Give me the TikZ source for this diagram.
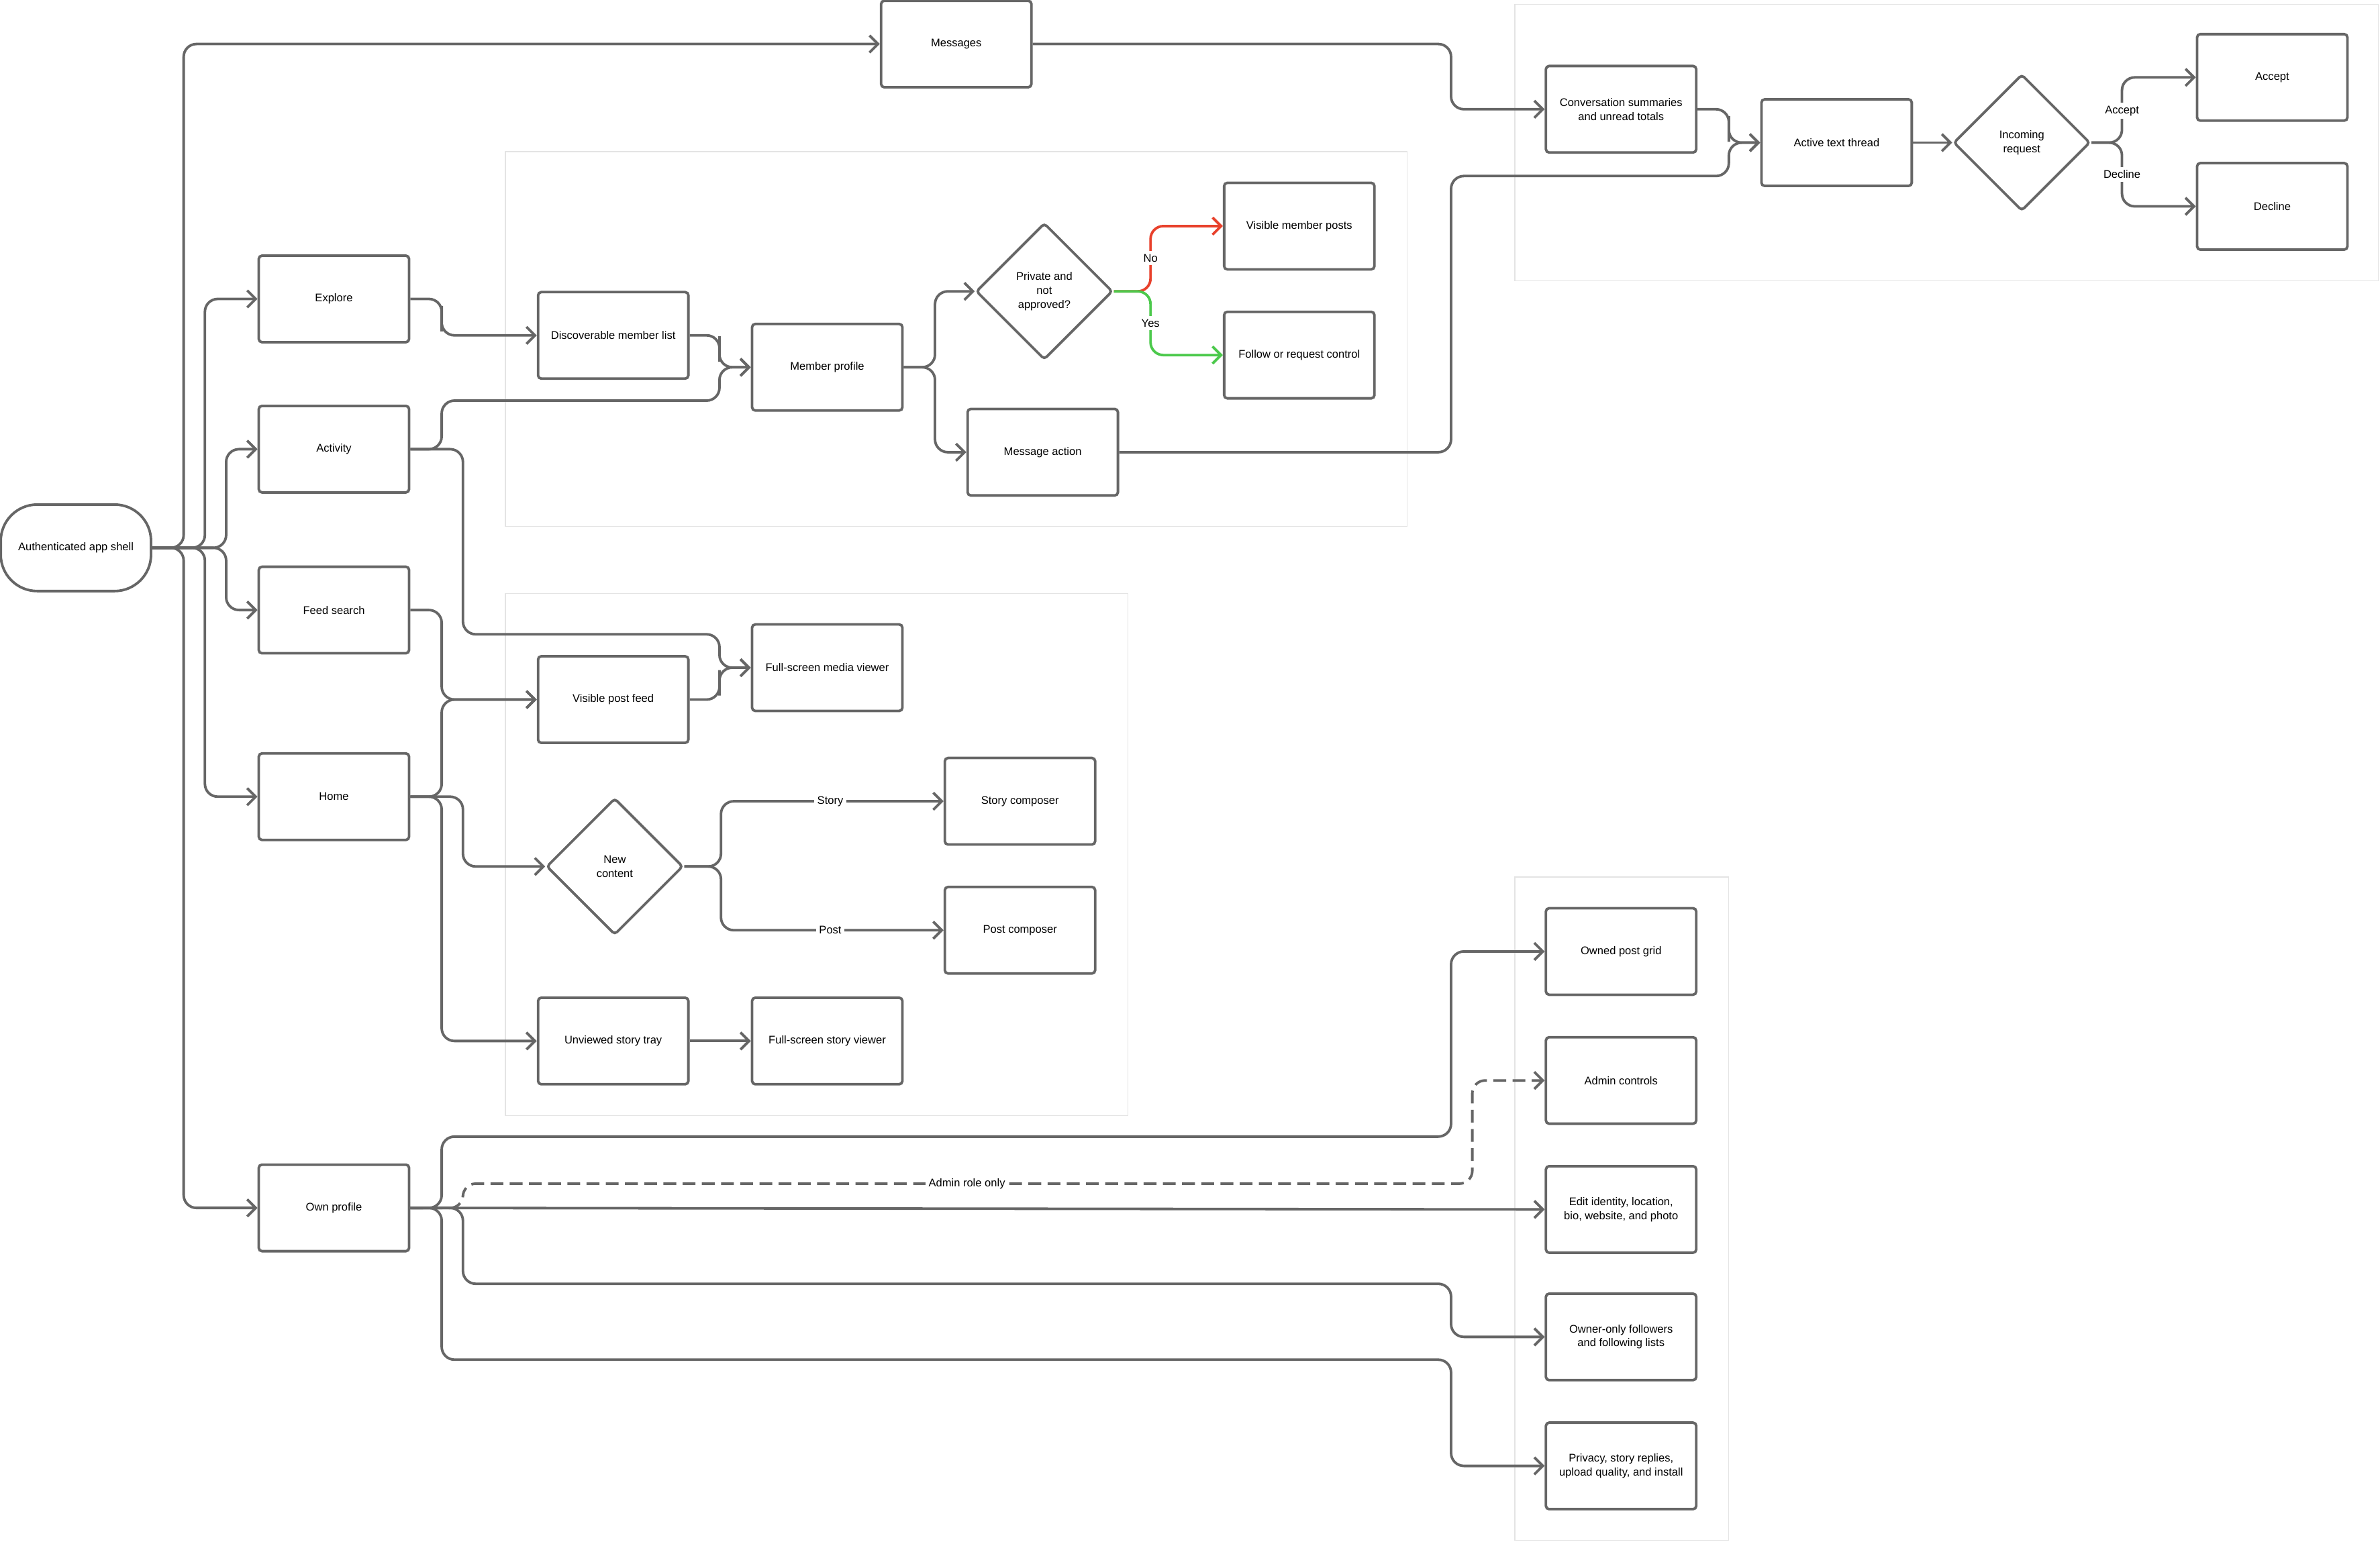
\documentclass[tikz,border=0pt]{standalone}
\usepackage{fontspec}
\setmainfont{Liberation Sans}
\usetikzlibrary{shapes.geometric,arrows.meta}
\definecolor{edge}{HTML}{666666}
\definecolor{nored}{HTML}{E8412C}
\definecolor{yesgreen}{HTML}{4CC94C}
\definecolor{frame}{HTML}{E4E4E4}
\begin{document}
\begin{tikzpicture}[x=0.025cm,y=-0.025cm,
    every node/.style={font=\fontsize{5.2}{6.5}\selectfont,align=center},
    box/.style={draw=edge,line width=1.2pt,rounded corners=1.5pt,minimum width=2.475cm,minimum height=1.425cm,inner sep=1pt},
    pill/.style={box,rounded corners=0.6cm},
    choice/.style={draw=edge,line width=1.2pt,diamond,aspect=1,minimum size=2.25cm,inner sep=0pt,rounded corners=1.5pt},
    group/.style={draw=frame,line width=0.4pt},
    link/.style={draw=edge,line width=1.2pt,rounded corners=6pt,-{Straight Barb[length=4pt,width=8pt]}},
    tag/.style={fill=white,inner sep=1.5pt}]
  \useasboundingbox (0,0) rectangle (1568,1016);
  % group frames
  \draw[group] (333,100) rectangle (927,347);
  \draw[group] (333,391) rectangle (743,735);
  \draw[group] (998,3) rectangle (1567,185);
  \draw[group] (998,578) rectangle (1139,1015);
  % nodes
  \node[pill] (shell) at (50,361) {Authenticated app shell};
  \node[box] (explore) at (220,197) {Explore};
  \node[box] (activity) at (220,296) {Activity};
  \node[box] (feedsearch) at (220,402) {Feed search};
  \node[box] (home) at (220,525) {Home};
  \node[box] (ownprofile) at (220,796) {Own profile};
  \node[box] (messages) at (630,29) {Messages};
  \node[box] (discover) at (404,221) {Discoverable member list};
  \node[box] (member) at (545,242) {Member profile};
  \node[choice] (private) at (688,192) {Private and\\not\\approved?};
  \node[box] (visposts) at (856,149) {Visible member posts};
  \node[box] (follow) at (856,234) {Follow or request control};
  \node[box] (msgaction) at (687,298) {Message action};
  \node[box] (convo) at (1068,72) {Conversation summaries\\and unread totals};
  \node[box] (thread) at (1210,94) {Active text thread};
  \node[choice] (incoming) at (1332,94) {Incoming\\request};
  \node[box] (accept) at (1497,51) {Accept};
  \node[box] (decline) at (1497,136) {Decline};
  \node[box] (mediaview) at (545,440) {Full-screen media viewer};
  \node[box] (postfeed) at (404,461) {Visible post feed};
  \node[choice] (newcontent) at (405,571) {New\\content};
  \node[box] (storycomp) at (672,528) {Story composer};
  \node[box] (postcomp) at (672,613) {Post composer};
  \node[box] (storytray) at (404,686) {Unviewed story tray};
  \node[box] (storyview) at (545,686) {Full-screen story viewer};
  \node[box] (postgrid) at (1068,627) {Owned post grid};
  \node[box] (admin) at (1068,712) {Admin controls};
  \node[box] (editid) at (1068,797) {Edit identity, location,\\bio, website, and photo};
  \node[box] (lists) at (1068,881) {Owner-only followers\\and following lists};
  \node[box] (privacy) at (1068,966) {Privacy, story replies,\\upload quality, and install};
  % app shell branches
  \draw[link] (shell.east) -| (121,150) |- (messages.west);
  \draw[link] (shell.east) -| (135,250) |- (explore.west);
  \draw[link] (shell.east) -| (149,320) |- (activity.west);
  \draw[link] (shell.east) -| (149,380) |- (feedsearch.west);
  \draw[link] (shell.east) -| (135,450) |- (home.west);
  \draw[link] (shell.east) -| (121,600) |- (ownprofile.west);
  % explore and member profile
  \draw[link] (explore.east) -| (291,210) |- (discover.west);
  \draw[link] (discover.east) -| (474,230) |- (member.west);
  \draw[link] (activity.east) -| (291,264) -- (474,264) |- (member.west);
  \draw[link] (activity.east) -| (305,418) -- (474,418) |- (mediaview.west);
  \draw[link] (member.east) -| (616,210) |- (private.east -| private.west);
  \draw[link] (member.east) -| (616,270) |- (msgaction.west);
  \draw[link,draw=nored] (private.east) -| (758,170) |- (visposts.west);
  \draw[link,draw=yesgreen] (private.east) -| (758,213) |- (follow.west);
  \node[tag] at (758,170) {No};
  \node[tag] at (758,213) {Yes};
  % messages
  \draw[link] (messages.east) -| (956,50) |- (convo.west);
  \draw[link] (convo.east) -| (1139,85) |- (thread.west);
  \draw[link] (msgaction.east) -| (956,116) -- (1139,116) |- (thread.west);
  \draw[link] (thread.east) -- (incoming.west);
  \draw[link] (incoming.east) -| (1398,70) |- (accept.west);
  \draw[link] (incoming.east) -| (1398,115) |- (decline.west);
  \node[tag] at (1398,73) {Accept};
  \node[tag] at (1398,115) {Decline};
  % feed and home
  \draw[link] (feedsearch.east) -| (291,440) |- (postfeed.west);
  \draw[link] (home.east) -| (291,490) |- (postfeed.west);
  \draw[link] (home.east) -| (305,550) |- (newcontent.west);
  \draw[link] (home.east) -| (291,600) |- (storytray.west);
  \draw[link] (postfeed.east) -| (474,450) |- (mediaview.west);
  \draw[link] (newcontent.east) -| (475,550) |- (storycomp.west);
  \draw[link] (newcontent.east) -| (475,590) |- (postcomp.west);
  \node[tag] at (547,528) {Story};
  \node[tag] at (547,613) {Post};
  \draw[link] (storytray) -- (storyview);
  % own profile
  \draw[link] (ownprofile.east) -| (291,749) -- (956,749) |- (postgrid.west);
  \draw[link,dashed,dash pattern=on 6pt off 3pt] (ownprofile.east) -| (305,780) -- (970,780) |- (admin.west);
  \node[tag] at (637,780) {Admin role only};
  \draw[link] (ownprofile.east) -- (editid.west);
  \draw[link] (ownprofile.east) -| (305,846) -- (956,846) |- (lists.west);
  \draw[link] (ownprofile.east) -| (291,896) -- (956,896) |- (privacy.west);
\end{tikzpicture}
\end{document}
